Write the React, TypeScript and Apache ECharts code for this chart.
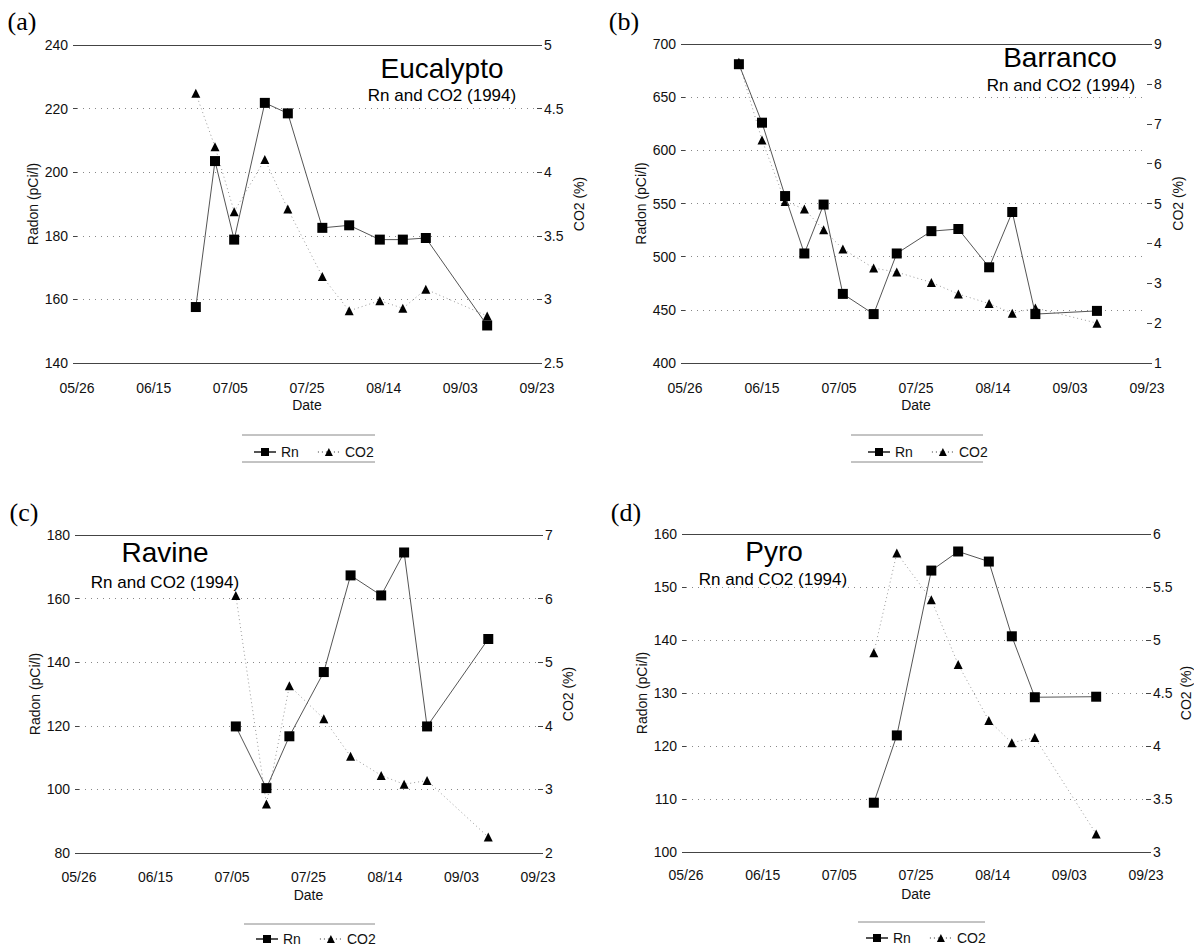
import React, { useEffect, useRef } from "react";
import * as echarts from "echarts";

// ---------- data ----------
const xTickLabels = ["05/26", "06/15", "07/05", "07/25", "08/14", "09/03", "09/23"];

// (a) Eucalypto
const aDates = ["06/26", "07/01", "07/06", "07/14", "07/20", "07/29", "08/05", "08/13", "08/19", "08/25", "09/10"];
const aRn = [157.6, 203.5, 178.8, 221.8, 218.5, 182.5, 183.3, 178.8, 178.8, 179.3, 151.8];
const aCO2 = [4.62, 4.2, 3.69, 4.1, 3.71, 3.18, 2.91, 2.99, 2.93, 3.08, 2.87];

// (b) Barranco
const bDates = ["06/09", "06/15", "06/21", "06/26", "07/01", "07/06", "07/14", "07/20", "07/29", "08/05", "08/13", "08/19", "08/25", "09/10"];
const bRn = [681, 626, 557, 503, 549, 465, 446, 503, 524, 526, 490, 542, 446, 449];
const bCO2 = [8.54, 6.59, 5.05, 4.86, 4.34, 3.86, 3.38, 3.28, 3.02, 2.73, 2.49, 2.25, 2.38, 2.0];

// (c) Ravine
const cDates = ["07/06", "07/14", "07/20", "07/29", "08/05", "08/13", "08/19", "08/25", "09/10"];
const cRn = [119.8, 100.4, 116.7, 136.9, 167.3, 161.0, 174.5, 119.8, 147.3];
const cCO2 = [6.05, 2.77, 4.63, 4.11, 3.52, 3.22, 3.08, 3.14, 2.25];

// (d) Pyro
const dDates = ["07/14", "07/20", "07/29", "08/05", "08/13", "08/19", "08/25", "09/10"];
const dRn = [109.3, 122.0, 153.1, 156.7, 154.8, 140.7, 129.2, 129.3];
const dCO2 = [4.88, 5.82, 5.38, 4.77, 4.24, 4.03, 4.08, 3.17];

const panelLabels = ["(a)", "(b)", "(c)", "(d)"];
const siteNames = ["Eucalypto", "Barranco", "Ravine", "Pyro"];
const subTitle = "Rn and CO2 (1994)";
const legendNames = ["Rn", "CO2"];

const rnRanges = [
  { min: 140, max: 240, interval: 20 },
  { min: 400, max: 700, interval: 50 },
  { min: 80, max: 180, interval: 20 },
  { min: 100, max: 160, interval: 10 },
];
const co2Ranges = [
  { min: 2.5, max: 5, interval: 0.5 },
  { min: 1, max: 9, interval: 1 },
  { min: 2, max: 7, interval: 1 },
  { min: 3, max: 6, interval: 0.5 },
];

// ---------- layout ----------
const SANS = '"Liberation Sans", Arial, Helvetica, sans-serif';
const SERIF = '"Liberation Serif", "Times New Roman", serif';

const layouts = [
  { grid: { left: 77, top: 45, width: 460, height: 318 }, xMargin: 18, rightNameGap: 35, title: [442, 68], sub: [442, 95], label: [22, 21], legend: [248, 440], legLines: [[242, 375, 435], [242, 375, 462]] },
  { grid: { left: 685, top: 44, width: 462, height: 319 }, xMargin: 18, rightNameGap: 24, title: [1060, 57], sub: [1061, 85], label: [624, 21], legend: [862, 440], legLines: [[851, 983, 435], [851, 983, 462]] },
  { grid: { left: 79, top: 535, width: 459, height: 318 }, xMargin: 17, rightNameGap: 23, title: [165, 552], sub: [165, 582], label: [24, 512], legend: [250, 927], legLines: [[244, 375, 924]] },
  { grid: { left: 686, top: 534, width: 461, height: 318 }, xMargin: 16, rightNameGap: 33, title: [774, 551], sub: [773, 579], label: [626, 512], legend: [860, 926], legLines: [[858, 985, 922]] },
];

const START = Date.UTC(1994, 4, 26);
const DAY = 86400000;
function dayOf(md: string): number {
  const [m, d] = md.split("/").map(Number);
  return (Date.UTC(1994, m - 1, d) - START) / DAY;
}
function fmtDay(v: number): string {
  const dt = new Date(START + Math.round(v) * DAY);
  const m = String(dt.getUTCMonth() + 1).padStart(2, "0");
  const d = String(dt.getUTCDate()).padStart(2, "0");
  return `${m}/${d}`;
}

const panelData = [
  { dates: aDates, rn: aRn, co2: aCO2 },
  { dates: bDates, rn: bRn, co2: bCO2 },
  { dates: cDates, rn: cRn, co2: cCO2 },
  { dates: dDates, rn: dRn, co2: dCO2 },
];

function buildOption() {
  const grid: any[] = [];
  const xAxis: any[] = [];
  const yAxis: any[] = [];
  const series: any[] = [];
  const legend: any[] = [];
  const graphic: any[] = [];
  const xMax = dayOf(xTickLabels[xTickLabels.length - 1]);

  panelData.forEach((p, i) => {
    const L = layouts[i];
    grid.push({ ...L.grid });
    xAxis.push({
      type: "value",
      gridIndex: i,
      min: 0,
      max: xMax,
      interval: 20,
      position: "bottom",
      name: "Date",
      nameLocation: "middle",
      nameGap: 35,
      nameTextStyle: { fontFamily: SANS, fontSize: 14, color: "#111" },
      axisLine: { show: true, onZero: false, lineStyle: { color: "#444", width: 1 } },
      axisTick: { show: false },
      splitLine: { show: false },
      axisLabel: {
        margin: L.xMargin,
        fontFamily: SANS,
        fontSize: 14,
        color: "#111",
        showMinLabel: true,
        showMaxLabel: true,
        formatter: (v: number) => fmtDay(v),
      },
    });
    xAxis.push({
      type: "value",
      gridIndex: i,
      min: 0,
      max: xMax,
      interval: 20,
      position: "top",
      axisLine: { show: true, onZero: false, lineStyle: { color: "#444", width: 1 } },
      axisTick: { show: false },
      axisLabel: { show: false },
      splitLine: { show: false },
    });
    const r = rnRanges[i];
    yAxis.push({
      type: "value",
      gridIndex: i,
      position: "left",
      min: r.min,
      max: r.max,
      interval: r.interval,
      name: "Radon (pCi/l)",
      nameLocation: "middle",
      nameGap: 37,
      nameTextStyle: { fontFamily: SANS, fontSize: 14, color: "#111" },
      axisLine: { show: false, onZero: false },
      axisTick: { show: true, length: 4, lineStyle: { color: "#444" } },
      axisLabel: { margin: 9, fontFamily: SANS, fontSize: 14, color: "#111" },
      splitLine: {
        show: true,
        showMinLine: false,
        showMaxLine: false,
        lineStyle: { color: "#888", width: 1, type: [1, 5] },
      },
    });
    const c = co2Ranges[i];
    yAxis.push({
      type: "value",
      gridIndex: i,
      position: "right",
      min: c.min,
      max: c.max,
      interval: c.interval,
      name: "CO2 (%)",
      nameLocation: "middle",
      nameGap: L.rightNameGap,
      nameTextStyle: { fontFamily: SANS, fontSize: 14, color: "#111" },
      axisLine: { show: false, onZero: false },
      axisTick: { show: true, length: 5, lineStyle: { color: "#444" } },
      axisLabel: { margin: 7, fontFamily: SANS, fontSize: 14, color: "#111" },
      splitLine: { show: false },
    });
    series.push({
      type: "line",
      name: legendNames[0],
      xAxisIndex: 2 * i,
      yAxisIndex: 2 * i,
      data: p.dates.map((d, j) => [dayOf(d), p.rn[j]]),
      symbol: "rect",
      symbolSize: 10,
      itemStyle: { color: "#000" },
      lineStyle: { color: "#555", width: 1 },
      z: 3,
    });
    series.push({
      type: "line",
      name: legendNames[1],
      xAxisIndex: 2 * i,
      yAxisIndex: 2 * i + 1,
      data: p.dates.map((d, j) => [dayOf(d), p.co2[j]]),
      symbol: "triangle",
      symbolSize: 9,
      itemStyle: { color: "#000" },
      lineStyle: { color: "#999", width: 1, type: [1, 3] },
      z: 2,
    });
    legend.push({
      data: legendNames,
      left: L.legend[0],
      top: L.legend[1],
      orient: "horizontal",
      itemWidth: 22,
      itemHeight: 10,
      itemGap: 18,
      selectedMode: false,
      textStyle: { fontFamily: SANS, fontSize: 14, color: "#111" },
    });
    L.legLines.forEach(([x1, x2, y]) => {
      graphic.push({
        type: "line",
        shape: { x1, y1: y, x2, y2: y },
        style: { stroke: "#888", lineWidth: 1 },
      });
    });
    graphic.push({
      type: "text",
      x: L.label[0],
      y: L.label[1],
      style: { text: panelLabels[i], fontFamily: SERIF, fontSize: 26, fill: "#000", align: "center", verticalAlign: "middle" },
    });
    graphic.push({
      type: "text",
      x: L.title[0],
      y: L.title[1],
      style: { text: siteNames[i], fontFamily: SANS, fontSize: 28, fill: "#000", align: "center", verticalAlign: "middle" },
    });
    graphic.push({
      type: "text",
      x: L.sub[0],
      y: L.sub[1],
      style: { text: subTitle, fontFamily: SANS, fontSize: 17, fill: "#000", align: "center", verticalAlign: "middle" },
    });
  });

  return {
    animation: false,
    backgroundColor: "#fff",
    textStyle: { fontFamily: SANS },
    grid,
    xAxis,
    yAxis,
    series,
    legend,
    graphic,
  };
}

export default function App() {
  const ref = useRef<HTMLDivElement>(null);
  useEffect(() => {
    if (!ref.current) return;
    const chart = echarts.init(ref.current, undefined, { renderer: "svg" });
    chart.setOption(buildOption() as any);
    return () => chart.dispose();
  }, []);
  return (
    <div
      ref={ref}
      style={{ position: "absolute", left: 0, top: 0, width: 1194, height: 950, background: "#fff" }}
    />
  );
}
